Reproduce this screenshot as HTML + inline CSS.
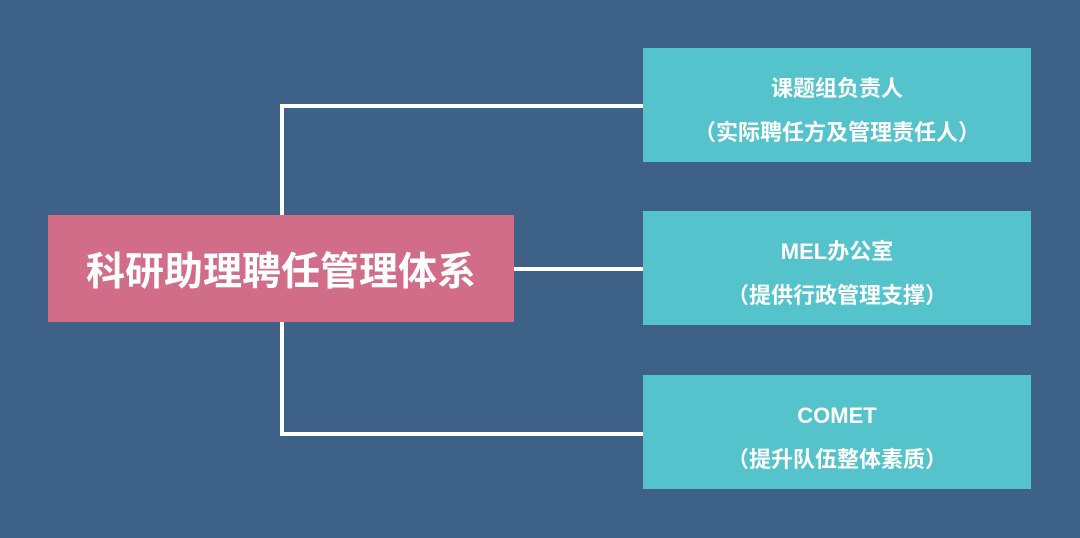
<!DOCTYPE html>
<html><head><meta charset="utf-8"><style>
html,body{margin:0;padding:0}
body{width:1080px;height:538px;background:#3e6287;position:relative;overflow:hidden;font-family:"Liberation Sans","Noto Sans CJK SC",sans-serif;font-weight:bold;color:#fff}
.l{position:absolute;background:#fff}
.b{position:absolute;display:flex;flex-direction:column;align-items:center;justify-content:center;text-align:center;box-sizing:border-box}
.t{left:643px;width:388px;height:114px;background:#54c3cb;font-size:22px;line-height:44px;padding-top:12px}
</style></head><body>
<div class="l" style="left:280px;top:104px;width:4px;height:332px"></div>
<div class="l" style="left:280px;top:104px;width:364px;height:4px"></div>
<div class="l" style="left:280px;top:432px;width:364px;height:4px"></div>
<div class="l" style="left:512px;top:267px;width:132px;height:4px"></div>
<div class="b" style="left:48px;top:215px;width:466px;height:107px;background:#d16d89;font-size:39px">科研助理聘任管理体系</div>
<div class="b t" style="top:48px">课题组负责人<br>（实际聘任方及管理责任人）</div>
<div class="b t" style="top:211px">MEL办公室<br>（提供行政管理支撑）</div>
<div class="b t" style="top:375px">COMET<br>（提升队伍整体素质）</div>
</body></html>
